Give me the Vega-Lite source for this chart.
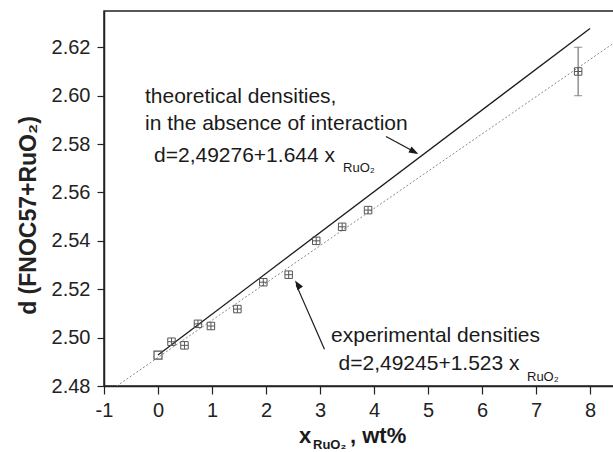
{
  "$schema": "https://vega.github.io/schema/vega-lite/v6.json",
  "width": 510,
  "height": 375,
  "autosize": {"type": "none"},
  "padding": {"left": 104, "top": 11, "right": 0, "bottom": 66},
  "background": "white",
  "config": {
    "view": {"stroke": "#222", "strokeWidth": 1.5},
    "font": "Liberation Sans",
    "text": {"font": "Liberation Sans"}
  },
  "datasets": {
    "points": [
      {"x": 0, "y": 2.4928},
      {"x": 0.25, "y": 2.4983},
      {"x": 0.49, "y": 2.4968},
      {"x": 0.74, "y": 2.5057},
      {"x": 0.98, "y": 2.5048},
      {"x": 1.47, "y": 2.5118},
      {"x": 1.95, "y": 2.5229},
      {"x": 2.42, "y": 2.526},
      {"x": 2.93, "y": 2.540},
      {"x": 3.41, "y": 2.5458},
      {"x": 3.89, "y": 2.5527},
      {"x": 7.78, "y": 2.610}
    ],
    "errbar": [{"x": 7.78, "lo": 2.60, "hi": 2.62}],
    "theory": [{"x": 0, "y": 2.4928}, {"x": 8, "y": 2.6278}],
    "fit": [{"x": -0.765, "y": 2.48}, {"x": 8.444, "y": 2.6218}],
    "arrows": [
      {"name": "theory", "x": 4.222, "y": 2.5831, "x2": 4.78, "y2": 2.5764},
      {"name": "exp", "x": 3.083, "y": 2.4952, "x2": 2.56, "y2": 2.5218}
    ],
    "heads": [
      {"name": "theory", "x": 4.821, "y": 2.5759},
      {"name": "exp", "x": 2.537, "y": 2.5236}
    ],
    "notes": [
      {"text": "theoretical densities,", "x": -0.241, "y": 2.5969},
      {"text": "in the absence of interaction", "x": -0.241, "y": 2.5858},
      {"text": "d=2,49276+1.644 x", "x": -0.074, "y": 2.57256},
      {"text": "experimental densities", "x": 3.204, "y": 2.49818},
      {"text": "d=2,49245+1.523 x", "x": 3.343, "y": 2.48661}
    ],
    "subs": [
      {"text": "RuO₂", "x": 3.426, "y": 2.56864},
      {"text": "RuO₂", "x": 6.833, "y": 2.4821}
    ],
    "xtitle": [
      {"text": "x", "x": 2.611, "y": 2.45645},
      {"text": ", wt%", "x": 3.556, "y": 2.45645}
    ],
    "xtitlesub": [
      {"text": "RuO₂", "x": 2.870, "y": 2.45397}
    ]
  },
  "layer": [
    {
      "data": {"name": "fit"},
      "mark": {"type": "line", "color": "#8a8a8a", "strokeWidth": 1, "strokeDash": [2, 2], "clip": true},
      "encoding": {
        "x": {
          "field": "x", "type": "quantitative",
          "scale": {"domain": [-1, 8.444], "nice": false, "zero": false},
          "axis": {
            "title": null,
            "values": [-1, -0.5, 0, 0.5, 1, 1.5, 2, 2.5, 3, 3.5, 4, 4.5, 5, 5.5, 6, 6.5, 7, 7.5, 8],
            "labelExpr": "datum.value % 1 == 0 ? '' + datum.value : ''",
            "tickSize": {"condition": {"test": "datum.value % 1 != 0", "value": 4}, "value": 8},
            "grid": false,
            "domainColor": "#222", "domainWidth": 1.5,
            "tickColor": "#222", "tickWidth": 1.2,
            "labelFontSize": 20, "labelColor": "#222", "labelPadding": 6,
            "labelFont": "Liberation Sans", "labelFlush": false, "labelOverlap": false
          }
        },
        "y": {
          "field": "y", "type": "quantitative",
          "scale": {"domain": [2.48, 2.635], "nice": false, "zero": false},
          "axis": {
            "title": "d (FNOC57+RuO₂)",
            "values": [2.48, 2.49, 2.5, 2.51, 2.52, 2.53, 2.54, 2.55, 2.56, 2.57, 2.58, 2.59, 2.6, 2.61, 2.62, 2.63],
            "labelExpr": "round(datum.value * 100) % 2 == 0 ? format(datum.value, '.2f') : ''",
            "tickSize": {"condition": {"test": "round(datum.value * 100) % 2 != 0", "value": 4}, "value": 7},
            "grid": false,
            "domainColor": "#222", "domainWidth": 1.5,
            "tickColor": "#222", "tickWidth": 1.2,
            "labelFontSize": 20, "labelColor": "#222", "labelPadding": 7,
            "labelFont": "Liberation Sans", "labelFlush": false, "labelOverlap": false,
            "titleFont": "Liberation Sans", "titleFontSize": 23, "titleFontWeight": "bold", "titleColor": "#222",
            "titleAngle": 270, "titleAlign": "center", "titleBaseline": "alphabetic",
            "titleX": -69, "titleY": 204
          }
        }
      }
    },
    {
      "data": {"name": "theory"},
      "mark": {"type": "line", "color": "#1a1a1a", "strokeWidth": 1.3},
      "encoding": {
        "x": {"field": "x", "type": "quantitative"},
        "y": {"field": "y", "type": "quantitative"}
      }
    },
    {
      "data": {"name": "errbar"},
      "mark": {"type": "rule", "color": "#777", "strokeWidth": 1.2},
      "encoding": {
        "x": {"field": "x", "type": "quantitative"},
        "y": {"field": "lo", "type": "quantitative"},
        "y2": {"field": "hi"}
      }
    },
    {
      "data": {"name": "errbar"},
      "mark": {"type": "tick", "orient": "horizontal", "color": "#777", "size": 8, "thickness": 1.2},
      "encoding": {
        "x": {"field": "x", "type": "quantitative"},
        "y": {"field": "lo", "type": "quantitative"}
      }
    },
    {
      "data": {"name": "errbar"},
      "mark": {"type": "tick", "orient": "horizontal", "color": "#777", "size": 8, "thickness": 1.2},
      "encoding": {
        "x": {"field": "x", "type": "quantitative"},
        "y": {"field": "hi", "type": "quantitative"}
      }
    },
    {
      "data": {"name": "points"},
      "transform": [{"filter": "datum.x > 0"}],
      "mark": {"type": "point", "shape": "M-1,-1H1V1H-1Z M-1,0H1 M0,-1V1", "size": 56, "filled": false, "color": "#555", "strokeWidth": 1, "opacity": 1},
      "encoding": {
        "x": {"field": "x", "type": "quantitative"},
        "y": {"field": "y", "type": "quantitative"}
      }
    },
    {
      "data": {"name": "points"},
      "transform": [{"filter": "datum.x == 0"}],
      "mark": {"type": "point", "shape": "square", "size": 64, "filled": false, "color": "#555", "strokeWidth": 1.2, "opacity": 1},
      "encoding": {
        "x": {"field": "x", "type": "quantitative"},
        "y": {"field": "y", "type": "quantitative"}
      }
    },
    {
      "data": {"name": "arrows"},
      "mark": {"type": "rule", "color": "#1a1a1a", "strokeWidth": 1.2},
      "encoding": {
        "x": {"field": "x", "type": "quantitative"},
        "y": {"field": "y", "type": "quantitative"},
        "x2": {"field": "x2"},
        "y2": {"field": "y2"}
      }
    },
    {
      "data": {"name": "heads"},
      "transform": [{"filter": "datum.name == 'theory'"}],
      "mark": {"type": "point", "shape": "M0,0L-2,-0.7L-2,0.7Z", "size": 90, "filled": true, "color": "#1a1a1a", "opacity": 1, "angle": 28},
      "encoding": {
        "x": {"field": "x", "type": "quantitative"},
        "y": {"field": "y", "type": "quantitative"}
      }
    },
    {
      "data": {"name": "heads"},
      "transform": [{"filter": "datum.name == 'exp'"}],
      "mark": {"type": "point", "shape": "M0,0L-2,-0.7L-2,0.7Z", "size": 90, "filled": true, "color": "#1a1a1a", "opacity": 1, "angle": 236.5},
      "encoding": {
        "x": {"field": "x", "type": "quantitative"},
        "y": {"field": "y", "type": "quantitative"}
      }
    },
    {
      "data": {"name": "notes"},
      "mark": {"type": "text", "align": "left", "baseline": "alphabetic", "fontSize": 21, "color": "#1a1a1a", "font": "Liberation Sans"},
      "encoding": {
        "x": {"field": "x", "type": "quantitative"},
        "y": {"field": "y", "type": "quantitative"},
        "text": {"field": "text"}
      }
    },
    {
      "data": {"name": "subs"},
      "mark": {"type": "text", "align": "left", "baseline": "alphabetic", "fontSize": 13, "color": "#1a1a1a", "font": "Liberation Sans"},
      "encoding": {
        "x": {"field": "x", "type": "quantitative"},
        "y": {"field": "y", "type": "quantitative"},
        "text": {"field": "text"}
      }
    },
    {
      "data": {"name": "xtitle"},
      "mark": {"type": "text", "align": "left", "baseline": "alphabetic", "fontSize": 22, "fontWeight": "bold", "color": "#1a1a1a", "font": "Liberation Sans"},
      "encoding": {
        "x": {"field": "x", "type": "quantitative"},
        "y": {"field": "y", "type": "quantitative"},
        "text": {"field": "text"}
      }
    },
    {
      "data": {"name": "xtitlesub"},
      "mark": {"type": "text", "align": "left", "baseline": "alphabetic", "fontSize": 13, "fontWeight": "bold", "color": "#1a1a1a", "font": "Liberation Sans"},
      "encoding": {
        "x": {"field": "x", "type": "quantitative"},
        "y": {"field": "y", "type": "quantitative"},
        "text": {"field": "text"}
      }
    }
  ]
}
